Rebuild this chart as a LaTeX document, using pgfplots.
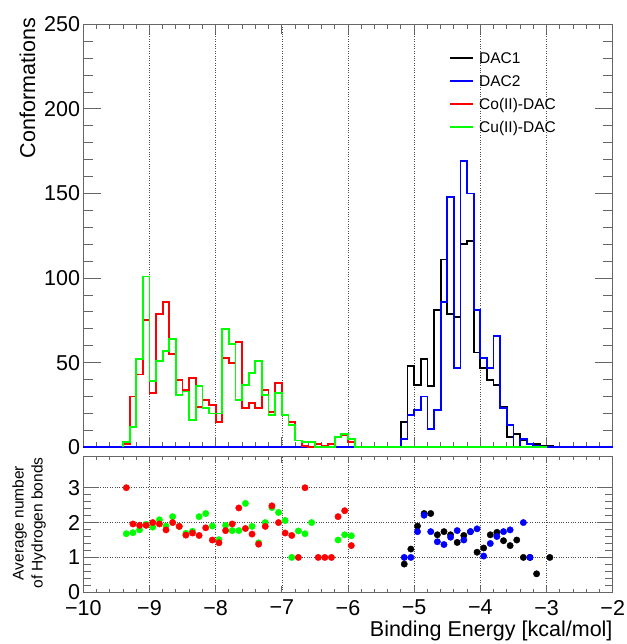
\documentclass[border=0pt]{standalone}
\usepackage{fontspec}
\setmainfont{Liberation Sans}
\usepackage{pgfplots}
\pgfplotsset{compat=1.18}

\definecolor{rblue}{RGB}{0,0,255}
\definecolor{rred}{RGB}{255,0,0}
\definecolor{rgreen}{RGB}{0,255,0}

\pgfplotsset{
  rootframe/.style={
    scale only axis,
    width=529.4pt,
    xmin=-10, xmax=-2,
    xtick={-10,-9,...,-2},
    minor x tick num=4,
    minor y tick num=4,
    tick align=inside,
    xtick pos=both, ytick pos=both,
    axis line style={black!60, line width=0.9pt},
    every tick/.style={black!60, line width=0.9pt},
    grid style={dotted, black!70, line width=0.6pt},
    tick label style={font=\fontsize{21.5}{24}\selectfont},
    /pgf/number format/assume math mode=true,
    clip=false,
  },
}

\begin{document}
\begin{tikzpicture}[x=1pt,y=1pt]
\useasboundingbox (0,0) rectangle (626,644);

% ---------- upper panel: histograms ----------
\begin{axis}[rootframe,
    at={(83.3pt,196.7pt)}, anchor=south west,
    height=423pt,
    ymin=0, ymax=250,
    ytick={0,50,...,250},
    xmajorgrids,
    xticklabels={},
    xtick style={/pgfplots/major tick length=10pt,/pgfplots/minor tick length=5pt},
    ytick style={/pgfplots/major tick length=18pt,/pgfplots/minor tick length=10pt},
    yticklabel style={inner sep=0pt, xshift=-3pt},
  ]
% DAC1
\addplot[black, line width=1.8pt, const plot mark left] coordinates {
(-10,0) (-5.2,0) (-5.2,15) (-5.1,48) (-5.0,37) (-4.9,52) (-4.8,36) (-4.7,81)
(-4.6,111) (-4.5,79) (-4.4,77) (-4.3,120) (-4.2,122) (-4.1,56) (-4.0,47)
(-3.9,40) (-3.8,37) (-3.7,24) (-3.6,6) (-3.5,8) (-3.4,4) (-3.3,2) (-3.2,2)
(-3.1,1) (-3.0,1) (-2.9,0) (-2,0)
};
% DAC2
\addplot[rblue, line width=1.8pt, const plot mark left] coordinates {
(-10,0) (-5.2,0) (-5.2,5) (-5.1,19) (-5.0,22) (-4.9,30) (-4.8,11) (-4.7,22)
(-4.6,86) (-4.5,148) (-4.4,47) (-4.3,169) (-4.2,150) (-4.1,81) (-4.0,53)
(-3.9,47) (-3.8,66) (-3.7,23) (-3.6,13) (-3.5,0) (-3.4,5) (-3.3,2) (-3.2,1)
(-3.1,0) (-2,0)
};
% Co(II)-DAC
\addplot[rred, line width=1.8pt, const plot mark left] coordinates {
(-9.4,0) (-9.4,2) (-9.3,30) (-9.2,43) (-9.1,75) (-9.0,32) (-8.9,79) (-8.8,86)
(-8.7,55) (-8.6,40) (-8.5,34) (-8.4,41) (-8.3,24) (-8.2,28) (-8.1,25)
(-8.0,15) (-7.9,53) (-7.8,50) (-7.7,62) (-7.6,23) (-7.5,26) (-7.4,23)
(-7.3,34) (-7.2,21) (-7.1,38) (-7.0,19) (-6.9,15) (-6.8,4) (-6.7,1)
(-6.6,0) (-6.5,2) (-6.4,1) (-6.3,2) (-6.2,6) (-6.1,7) (-6.0,3) (-5.9,0)
(-3.0,0)
};
% Cu(II)-DAC
\addplot[rgreen, line width=1.8pt, const plot mark left] coordinates {
(-9.4,0) (-9.4,3) (-9.3,12) (-9.2,52) (-9.1,101) (-9.0,39) (-8.9,51) (-8.8,57)
(-8.7,64) (-8.6,31) (-8.5,33) (-8.4,16) (-8.3,36) (-8.2,23) (-8.1,20)
(-8.0,20) (-7.9,70) (-7.8,61) (-7.7,28) (-7.6,37) (-7.5,44) (-7.4,51)
(-7.3,31) (-7.2,19) (-7.1,32) (-7.0,19) (-6.9,13) (-6.8,4) (-6.7,3)
(-6.6,3) (-6.5,0) (-6.4,0) (-6.3,0) (-6.2,6) (-6.1,8) (-6.0,5) (-5.9,0)
(-3.0,0)
};
\end{axis}

% ---------- lower panel: average H-bonds ----------
\begin{axis}[rootframe,
    at={(83.3pt,51.7pt)}, anchor=south west,
    height=135.6pt,
    ymin=0, ymax=3.89,
    ytick={0,1,2,3},
    xmajorgrids, ymajorgrids,
    xticklabels={−10,−9,−8,−7,−6,−5,−4,−3,−2},
    xtick style={/pgfplots/major tick length=6pt,/pgfplots/minor tick length=3pt},
    ytick style={/pgfplots/major tick length=16pt,/pgfplots/minor tick length=8pt},
    yticklabel style={inner sep=0pt, xshift=-3pt},
    xticklabel style={inner sep=0pt, yshift=-7.5pt},
  ]
% DAC1
\addplot[only marks, mark=*, mark size=3.2pt, black, mark options={draw=black, fill=black}] coordinates {
(-5.15,0.81) (-5.05,1.24) (-4.95,1.90) (-4.85,2.26) (-4.75,2.26) (-4.65,1.65)
(-4.55,1.74) (-4.45,1.65) (-4.35,1.43) (-4.25,1.63) (-4.15,1.74) (-4.05,1.15)
(-3.95,1.27) (-3.85,1.65) (-3.75,1.72) (-3.65,1.48) (-3.55,1.34) (-3.45,1.50)
(-3.35,1.00) (-3.25,1.00) (-3.15,0.53) (-2.95,1.00)
};
% DAC2
\addplot[only marks, mark=*, mark size=3.2pt, rblue, mark options={draw=rblue, fill=rblue}] coordinates {
(-5.15,1.00) (-5.05,1.00) (-4.95,1.74) (-4.85,2.21) (-4.75,1.74) (-4.65,1.45)
(-4.55,1.37) (-4.45,1.58) (-4.35,1.77) (-4.25,1.50) (-4.15,1.74) (-4.05,1.82)
(-3.95,1.04) (-3.85,1.40) (-3.75,1.60) (-3.65,1.74) (-3.55,1.79) (-3.35,2.00)
(-3.25,1.00)
};
% Cu(II)-DAC
\addplot[only marks, mark=*, mark size=3.2pt, rgreen, mark options={draw=rgreen, fill=rgreen}] coordinates {
(-9.35,1.68) (-9.25,1.71) (-9.15,1.79) (-9.05,1.95) (-8.95,1.87) (-8.85,2.08)
(-8.75,1.90) (-8.65,2.17) (-8.55,1.89) (-8.45,1.69) (-8.35,1.75) (-8.25,2.17)
(-8.15,2.26) (-8.05,1.90) (-7.95,1.51) (-7.85,1.92) (-7.75,1.77) (-7.65,1.77)
(-7.55,2.55) (-7.45,1.89) (-7.35,1.42) (-7.25,2.00) (-7.15,2.43) (-7.05,2.29)
(-6.95,2.06) (-6.85,1.00) (-6.75,1.76) (-6.65,1.68) (-6.55,2.00) (-6.15,1.50)
(-6.05,1.65) (-5.95,1.62)
};
% Co(II)-DAC
\addplot[only marks, mark=*, mark size=3.2pt, rred, mark options={draw=rred, fill=rred}] coordinates {
(-9.35,3.00) (-9.25,1.96) (-9.15,1.92) (-9.05,1.92) (-8.95,2.00) (-8.85,1.96)
(-8.75,1.79) (-8.65,2.00) (-8.55,1.89) (-8.45,1.64) (-8.35,1.70) (-8.25,1.63)
(-8.15,1.85) (-8.05,1.50) (-7.95,1.42) (-7.85,1.77) (-7.75,1.96) (-7.65,2.42)
(-7.55,1.83) (-7.45,1.67) (-7.35,1.38) (-7.25,1.89) (-7.15,2.48) (-7.05,2.00)
(-6.95,1.70) (-6.85,1.63) (-6.75,1.00) (-6.65,3.00) (-6.45,1.00) (-6.35,1.00)
(-6.25,1.00) (-6.15,2.17) (-6.05,2.34) (-5.95,1.34)
};
\end{axis}

% legend (no frame, as in the reference)
\foreach \c/\t/\yy in {black/DAC1/586, rblue/DAC2/563, rred/Co(II)-DAC/540, rgreen/Cu(II)-DAC/517}{
  \draw[\c, line width=1.2pt] (450,\yy) -- (473,\yy);
  \node[anchor=base west, inner sep=0pt, font=\fontsize{15.5}{18}\selectfont]
    at (479,\yy-5.6) {\t};
}

% axis titles
\node[rotate=90, anchor=base east, inner sep=0pt, font=\fontsize{21.5}{24}\selectfont]
  at (35,626) {Conformations};
\node[rotate=90, anchor=center, align=center, inner sep=0pt, font=\fontsize{15.5}{19}\selectfont]
  at (29,121) {Average number\\of Hydrogen bonds};
\node[anchor=base east, inner sep=0pt, font=\fontsize{21.5}{24}\selectfont]
  at (612.7,7) {Binding Energy [kcal/mol]};
\end{tikzpicture}
\end{document}
